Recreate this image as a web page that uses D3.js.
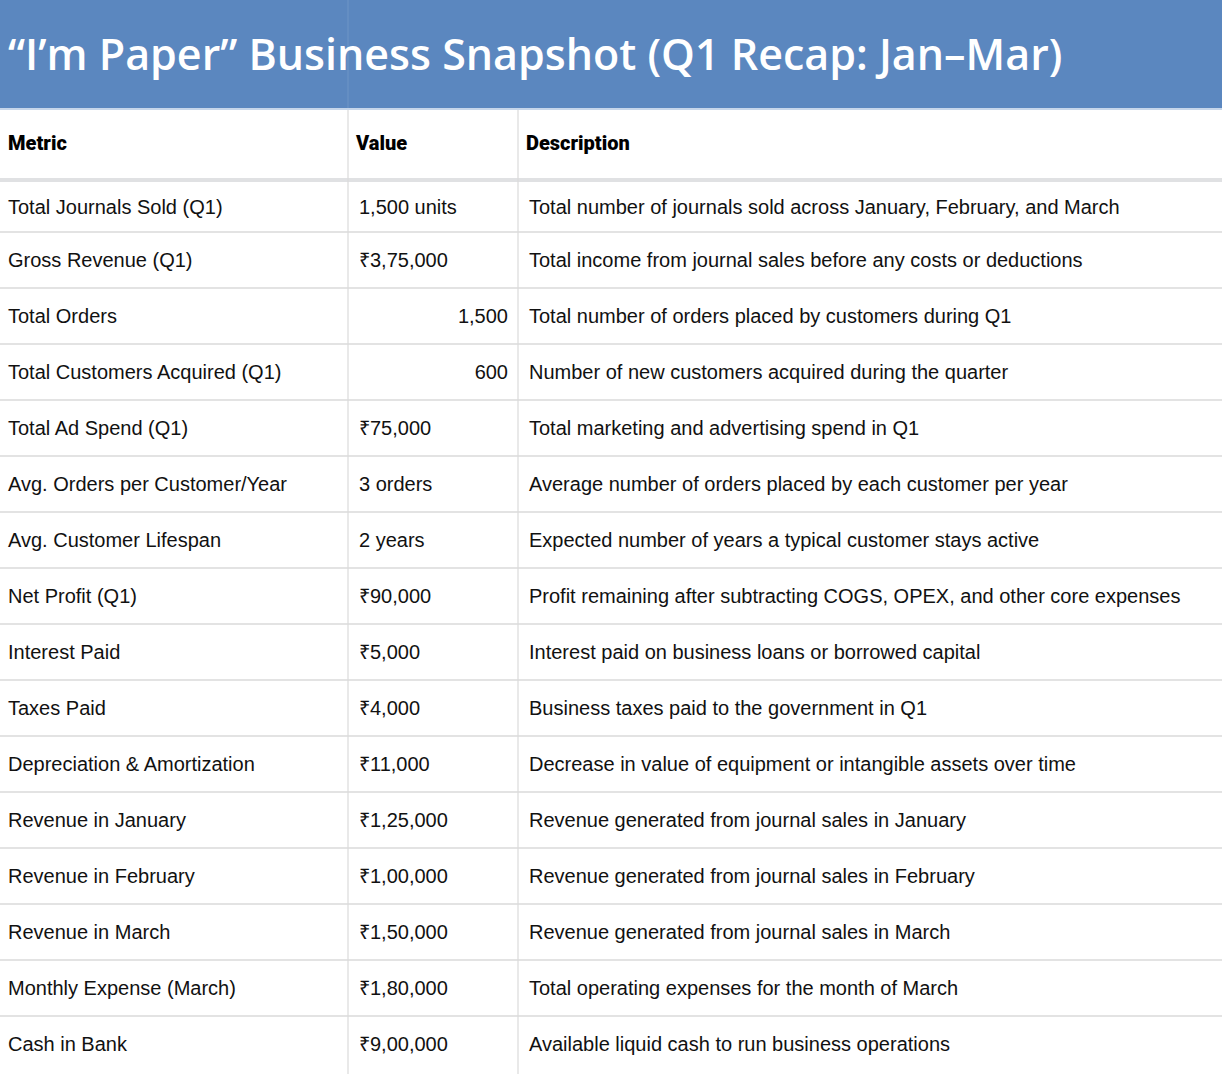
<!DOCTYPE html>
<html><head><meta charset="utf-8">
<script src="https://cdn.jsdelivr.net/npm/d3@7"></script>
<style>body{margin:0;background:#fff}</style>
</head><body>
<svg id="chart" width="1222" height="1074"></svg>
<script>
const title = "\u201cI\u2019m Paper\u201d Business Snapshot (Q1 Recap: Jan\u2013Mar)";
const headers = ["Metric", "Value", "Description"];
const metrics = ["Total Journals Sold (Q1)", "Gross Revenue (Q1)", "Total Orders", "Total Customers Acquired (Q1)", "Total Ad Spend (Q1)", "Avg. Orders per Customer/Year", "Avg. Customer Lifespan", "Net Profit (Q1)", "Interest Paid", "Taxes Paid", "Depreciation & Amortization", "Revenue in January", "Revenue in February", "Revenue in March", "Monthly Expense (March)", "Cash in Bank"];
const values = ["1,500 units", "₹3,75,000", "1,500", "600", "₹75,000", "3 orders", "2 years", "₹90,000", "₹5,000", "₹4,000", "₹11,000", "₹1,25,000", "₹1,00,000", "₹1,50,000", "₹1,80,000", "₹9,00,000"];
const rightAligned = [false, false, true, true, false, false, false, false, false, false, false, false, false, false, false, false];
const descriptions = ["Total number of journals sold across January, February, and March", "Total income from journal sales before any costs or deductions", "Total number of orders placed by customers during Q1", "Number of new customers acquired during the quarter", "Total marketing and advertising spend in Q1", "Average number of orders placed by each customer per year", "Expected number of years a typical customer stays active", "Profit remaining after subtracting COGS, OPEX, and other core expenses", "Interest paid on business loans or borrowed capital", "Business taxes paid to the government in Q1", "Decrease in value of equipment or intangible assets over time", "Revenue generated from journal sales in January", "Revenue generated from journal sales in February", "Revenue generated from journal sales in March", "Total operating expenses for the month of March", "Available liquid cash to run business operations"];

const svg = d3.select("#chart");
const W = 1222, cols = [0, 348, 518, W];
const rowY = d3.scaleLinear().domain([0, 1]).range([176, 232]); // row i top = rowY(i) for i>=1
const rows = metrics.map((m, i) => ({ m, v: values[i], d: descriptions[i], r: rightAligned[i], top: i === 0 ? 182 : rowY(i), bot: rowY(i + 1) }));

// title band
svg.append("rect").attr("width", W).attr("height", 108).attr("fill", "#5b87bf");
svg.append("line").attr("x1", 348).attr("x2", 348).attr("y1", 0).attr("y2", 108).attr("stroke", "#6f95c6");
svg.append("text").attr("x", 8).attr("y", 70).attr("fill", "#fff")
  .style("font-family", "'Open Sans', sans-serif").style("font-weight", 600).style("font-size", "43px")
  .text(title);
svg.append("line").attr("x1", 0).attr("x2", W).attr("y1", 109).attr("y2", 109).attr("stroke", "#c6d6ea").attr("stroke-width", 2);

// header
svg.append("rect").attr("y", 178).attr("width", W).attr("height", 4).attr("fill", "#e0e1e3");
svg.selectAll(".hd").data(headers).join("text")
  .attr("x", (d, i) => cols[i] + 8).attr("y", 150)
  .style("font-family", "Roboto, sans-serif").style("font-weight", 900).style("font-size", "20px")
  .text(d => d);

// row lines
svg.selectAll(".rl").data(rows.slice(0, -1)).join("line")
  .attr("x1", 0).attr("x2", W).attr("y1", d => d.bot).attr("y2", d => d.bot)
  .attr("stroke", "#dadada").attr("stroke-width", 1.5);
// column lines
svg.selectAll(".cl").data([348, 518]).join("line")
  .attr("x1", d => d).attr("x2", d => d).attr("y1", 110).attr("y2", 1074)
  .attr("stroke", "#dadada").attr("stroke-width", 1.2);

const g = svg.selectAll(".row").data(rows).join("g")
  .style("font-family", "'Liberation Sans', Arial, sans-serif").style("font-size", "20px").attr("fill", "#111");
g.append("text").attr("x", 8).attr("y", d => (d.top + d.bot) / 2 + 7).text(d => d.m);
g.append("text").attr("x", d => d.r ? 508 : 359).attr("text-anchor", d => d.r ? "end" : "start")
  .attr("y", d => (d.top + d.bot) / 2 + 7).text(d => d.v);
g.append("text").attr("x", 529).attr("y", d => (d.top + d.bot) / 2 + 7).text(d => d.d);
</script>
</body></html>
